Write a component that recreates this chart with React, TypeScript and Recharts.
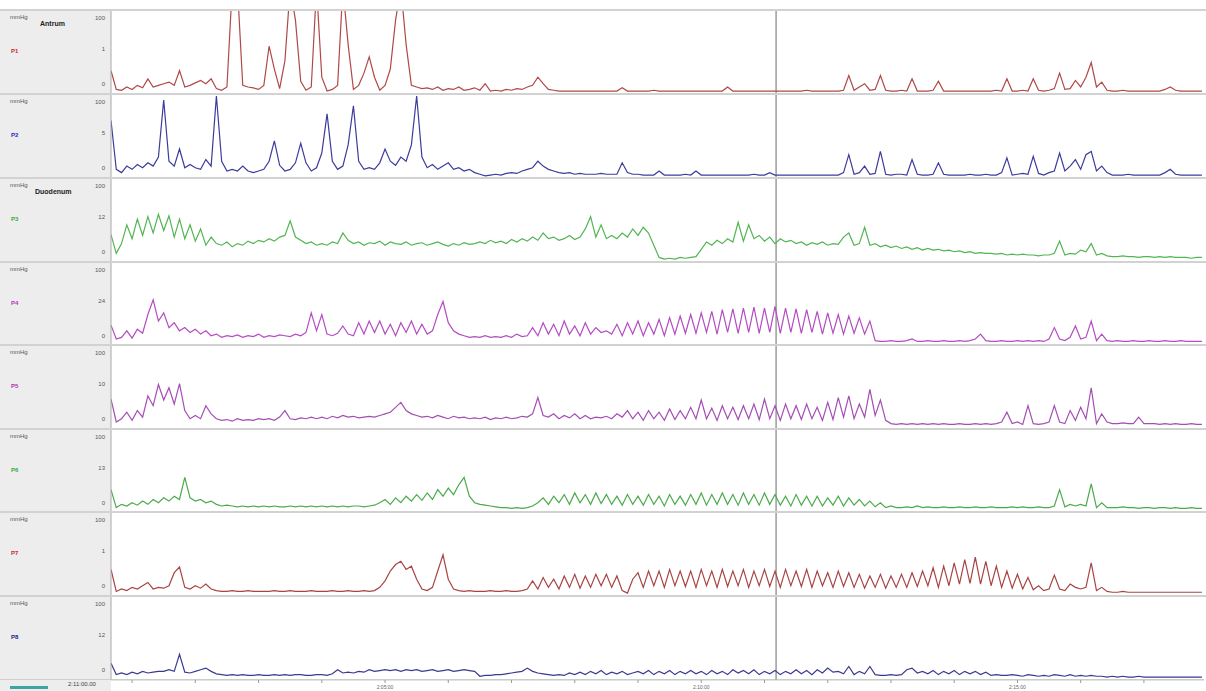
import React from "react";
import { LineChart, Line, XAxis, YAxis, ReferenceLine } from "recharts";

// sampling: seconds after 2:00:00, one sample every 5 s
const START_S = 40;
const STEP_S = 5;
const X_DOMAIN: [number, number] = [40, 1077];
const CURSOR_S = 671;
const TIME_TICKS = [60, 120, 180, 240, 300, 360, 420, 480, 540, 600, 660, 720, 780, 840, 900, 960, 1020];
const TIME_LABELS: Record<number, string> = { 300: "2:05:00", 600: "2:10:00", 900: "2:15:00" };
const CURSOR_LABEL = "2:11:00.00";

const channels = ["P1", "P2", "P3", "P4", "P5", "P6", "P7", "P8"];
const midLabels = ["1", "5", "12", "24", "10", "13", "1", "12"];
const regionLabels: Record<string, string> = { P1: "Antrum", P3: "Duodenum" };

const p1 = [
  28, 5, 4, 8, 5, 10, 7, 18, 8, 10,
  12, 14, 10, 28, 8, 10, 13, 16, 12, 18,
  6, 4, 8, 130, 130, 10, 8, 7, 5, 10,
  58, 30, 6, 40, 130, 90, 15, 4, 8, 130,
  20, 3, 5, 10, 130, 60, 5, 10, 25, 45,
  20, 4, 10, 30, 90, 130, 60, 10, 8, 6,
  7, 5, 8, 4, 6, 5, 8, 4, 5, 7,
  4, 12, 3, 4, 3, 5, 4, 6, 5, 8,
  10, 20, 12, 5, 4, 3, 3, 3, 3, 3,
  3, 3, 3, 3, 3, 3, 3, 7, 3, 3,
  3, 3, 3, 4, 3, 3, 3, 3, 3, 3,
  3, 3, 3, 3, 3, 3, 3, 8, 3, 3,
  3, 3, 3, 3, 3, 3, 3, 3, 3, 3,
  3, 3, 4, 3, 3, 3, 3, 3, 3, 4,
  22, 4, 8, 12, 4, 5, 22, 4, 3, 3,
  4, 3, 18, 3, 3, 3, 4, 15, 3, 3,
  3, 3, 3, 3, 3, 3, 3, 3, 4, 3,
  18, 3, 3, 4, 3, 18, 4, 3, 4, 6,
  25, 5, 6, 16, 8, 20, 38, 8, 14, 4,
  3, 3, 4, 3, 3, 3, 3, 3, 3, 3,
  5, 8, 4, 3, 3, 3, 3, 3,
];

const p2 = [
  70, 10, 6, 14, 10, 16, 12, 18, 14, 25,
  95, 20, 14, 35, 12, 16, 12, 10, 22, 14,
  100, 20, 8, 10, 8, 14, 8, 6, 8, 10,
  20, 45, 15, 8, 10, 18, 42, 18, 8, 12,
  30, 78, 20, 10, 14, 40, 88, 20, 10, 12,
  10, 18, 35, 20, 15, 25, 20, 40, 100, 25,
  12, 16, 10, 14, 18, 10, 12, 8, 10, 6,
  4, 2, 3, 4, 3, 5, 6, 5, 8, 10,
  12, 20, 14, 10, 8, 6, 5, 6, 4, 5,
  4, 4, 4, 5, 4, 4, 4, 18, 6, 4,
  4, 3, 3, 3, 8, 3, 3, 3, 3, 4,
  3, 8, 3, 3, 3, 3, 3, 3, 3, 3,
  3, 3, 4, 3, 3, 6, 3, 3, 3, 3,
  3, 3, 3, 3, 3, 3, 3, 3, 3, 6,
  28, 4, 6, 14, 4, 5, 32, 4, 3, 4,
  4, 3, 22, 4, 3, 3, 4, 18, 4, 3,
  3, 3, 3, 4, 3, 3, 4, 3, 3, 6,
  24, 3, 4, 5, 4, 26, 5, 3, 6, 8,
  30, 8, 14, 22, 10, 28, 32, 8, 14, 6,
  3, 3, 3, 4, 3, 3, 3, 3, 3, 3,
  6, 10, 4, 3, 3, 3, 3, 3,
];

const p3 = [
  33, 10, 22, 45, 28, 52, 32, 55, 35, 58,
  38, 56, 30, 52, 28, 45, 25, 40, 20, 30,
  22, 20, 24, 18, 22, 20, 25, 22, 26, 24,
  28, 25, 30, 32, 50, 30, 26, 22, 24, 20,
  22, 20, 24, 22, 35, 26, 22, 24, 20, 23,
  22, 25, 20, 24, 22, 21, 24, 20, 22, 23,
  20, 22, 24, 21, 19, 22, 20, 23, 21, 22,
  24, 22, 26, 23, 25, 22, 27, 24, 28, 25,
  30, 26, 35, 28, 30, 26, 28, 32, 27, 30,
  40, 55, 30, 45, 28, 32, 28, 35, 30, 40,
  32, 42, 35, 20, 5, 3, 4, 3, 5, 4,
  5, 6, 15, 24, 20, 26, 22, 28, 24, 48,
  25, 45, 28, 32, 25, 30, 22, 28, 24, 26,
  22, 24, 20, 23, 21, 24, 20, 22, 21, 30,
  35, 20, 22, 42, 20, 22, 18, 20, 17, 19,
  16, 18, 15, 17, 14, 16, 14, 15, 13, 14,
  12, 13, 11, 12, 10, 11, 10, 10, 9, 10,
  8, 9, 8, 9, 8, 8, 7, 8, 8, 10,
  25, 8, 10, 9, 14, 12, 22, 8, 10, 7,
  6, 6, 7, 6, 6, 5, 6, 6, 5, 6,
  5, 6, 5, 5, 5, 4, 5, 5,
];

const p4 = [
  25, 8, 10, 18, 9, 20, 15, 38, 56, 30,
  40, 22, 28, 18, 22, 16, 20, 14, 18, 12,
  14, 10, 12, 11, 13, 10, 12, 11, 14, 10,
  12, 11, 13, 12, 11, 14, 12, 16, 40, 18,
  38, 14, 12, 15, 24, 14, 12, 28, 14, 30,
  16, 30, 14, 26, 12, 28, 16, 30, 14, 26,
  14, 18, 38, 54, 28, 18, 14, 12, 10, 11,
  10, 12, 10, 11, 10, 12, 10, 14, 11, 12,
  22, 12, 28, 14, 26, 12, 30, 14, 24, 12,
  28, 14, 22, 16, 18, 14, 26, 12, 28, 14,
  30, 12, 28, 14, 32, 12, 34, 14, 36, 15,
  38, 15, 40, 16, 42, 14, 44, 16, 45, 15,
  46, 16, 47, 15, 46, 16, 48, 15, 46, 16,
  45, 15, 44, 16, 42, 14, 40, 15, 38, 14,
  36, 15, 34, 14, 30, 6, 5, 5, 6, 5,
  5, 6, 8, 5, 5, 6, 5, 5, 6, 5,
  5, 6, 5, 6, 8, 14, 6, 5, 5, 6,
  5, 5, 6, 5, 6, 5, 6, 5, 8, 22,
  8, 6, 10, 24, 8, 10, 30, 6, 14, 6,
  5, 6, 5, 5, 6, 5, 5, 6, 5, 5,
  6, 5, 5, 6, 5, 5, 5, 5,
];

const p5 = [
  36, 8, 12, 20, 10, 22, 14, 40, 28, 54,
  35, 50, 30, 55, 22, 12, 16, 12, 28, 18,
  12, 10, 11, 9, 12, 10, 11, 10, 12, 11,
  12, 10, 14, 22, 12, 11, 13, 12, 14, 12,
  14, 12, 15, 13, 16, 14, 15, 13, 14, 15,
  14, 16, 18, 20, 26, 32, 22, 18, 16, 14,
  15, 13, 16, 14, 12, 15, 13, 14, 12, 13,
  12, 14, 11, 13, 12, 14, 12, 13, 15, 14,
  18, 38, 16, 14, 18, 12, 16, 13, 18, 12,
  16, 12, 14, 13, 15, 12, 18, 14, 22, 12,
  20, 10, 22, 12, 20, 10, 24, 11, 22, 12,
  26, 12, 35, 12, 25, 10, 28, 12, 26, 11,
  28, 12, 30, 11, 36, 12, 28, 10, 30, 12,
  28, 11, 30, 12, 26, 10, 32, 11, 38, 14,
  40, 12, 30, 14, 48, 16, 35, 10, 6, 5,
  6, 5, 6, 5, 6, 5, 6, 5, 6, 5,
  5, 6, 5, 5, 6, 5, 6, 5, 6, 8,
  20, 6, 8, 5, 28, 6, 5, 6, 8, 28,
  8, 6, 22, 10, 26, 12, 50, 6, 18, 8,
  6, 6, 7, 6, 6, 14, 6, 6, 6, 5,
  6, 5, 6, 5, 5, 6, 5, 5,
];

const p6 = [
  28, 6, 10, 8, 12, 9, 14, 10, 16, 12,
  18, 14, 20, 16, 43, 18, 14, 16, 12, 14,
  10, 8, 9, 8, 7, 8, 7, 8, 7, 8,
  7, 8, 7, 7, 8, 7, 8, 7, 8, 7,
  8, 7, 8, 7, 8, 7, 8, 8, 7, 8,
  9, 12, 16, 10, 18, 12, 20, 14, 22, 15,
  24, 16, 28, 20, 30, 22, 34, 43, 20, 12,
  10, 9, 8, 7, 6, 6, 5, 6, 5, 6,
  8, 12, 18, 10, 20, 12, 22, 10, 24, 12,
  22, 10, 24, 11, 22, 10, 20, 9, 22, 10,
  20, 9, 22, 10, 20, 8, 22, 10, 20, 9,
  22, 10, 24, 9, 22, 10, 24, 10, 22, 9,
  24, 10, 22, 9, 24, 10, 22, 9, 20, 8,
  22, 9, 20, 8, 20, 8, 18, 9, 20, 8,
  18, 9, 16, 8, 14, 7, 12, 6, 8, 6,
  6, 7, 6, 8, 6, 7, 6, 6, 7, 6,
  6, 7, 6, 6, 7, 6, 6, 7, 6, 6,
  6, 7, 6, 7, 6, 6, 7, 6, 6, 8,
  28, 7, 10, 8, 10, 8, 35, 6, 12, 6,
  6, 6, 7, 6, 6, 5, 6, 6, 5, 6,
  6, 5, 6, 5, 5, 6, 5, 5,
];

const p7 = [
  32, 5, 8, 6, 10, 8, 12, 16, 8, 10,
  9, 12, 28, 35, 10, 8, 12, 9, 14, 8,
  6, 5, 5, 6, 5, 5, 6, 5, 5, 5,
  5, 6, 5, 5, 6, 5, 5, 5, 6, 5,
  5, 5, 6, 5, 5, 6, 5, 5, 6, 5,
  6, 10, 18, 30, 38, 42, 32, 36, 20, 8,
  6, 10, 30, 50, 20, 8, 6, 5, 6, 5,
  5, 5, 6, 5, 5, 6, 5, 5, 6, 8,
  18, 8, 22, 10, 20, 8, 24, 10, 26, 9,
  24, 10, 26, 12, 26, 10, 24, 6, 3, 20,
  28, 10, 30, 12, 30, 10, 32, 12, 30, 11,
  30, 10, 32, 12, 30, 10, 32, 11, 30, 12,
  32, 10, 30, 12, 32, 11, 30, 10, 32, 12,
  30, 11, 32, 10, 30, 12, 28, 10, 30, 11,
  28, 10, 26, 9, 24, 10, 26, 9, 24, 10,
  26, 10, 28, 11, 30, 12, 34, 10, 36, 12,
  40, 14, 44, 15, 47, 14, 42, 12, 36, 10,
  30, 9, 26, 8, 22, 7, 12, 6, 8, 25,
  8, 6, 14, 10, 8, 10, 40, 6, 10, 5,
  4, 4, 5, 4, 4, 4, 4, 4, 4, 4,
  4, 4, 4, 4, 4, 4, 4, 4,
];

const p8 = [
  20, 6, 8, 6, 9, 7, 10, 8, 9, 10,
  10, 12, 10, 31, 9, 8, 10, 12, 14, 10,
  7, 6, 5, 6, 5, 6, 5, 5, 6, 5,
  5, 6, 5, 6, 5, 6, 6, 5, 5, 6,
  6, 5, 7, 12, 8, 9, 8, 10, 9, 12,
  10, 11, 12, 11, 12, 10, 12, 11, 12, 10,
  11, 12, 10, 11, 12, 10, 11, 12, 11, 10,
  4, 5, 5, 6, 6, 7, 8, 9, 10, 14,
  10, 8, 7, 6, 5, 6, 5, 8, 6, 9,
  6, 10, 7, 11, 6, 9, 7, 10, 6, 8,
  10, 7, 11, 6, 10, 7, 11, 6, 10, 7,
  11, 7, 10, 6, 11, 7, 10, 6, 12, 8,
  11, 7, 12, 6, 10, 7, 11, 6, 10, 7,
  12, 7, 11, 6, 12, 8, 14, 9, 10, 7,
  16, 6, 10, 7, 16, 6, 5, 5, 6, 5,
  6, 12, 14, 8, 10, 7, 11, 6, 10, 7,
  11, 6, 10, 7, 10, 6, 9, 5, 6, 5,
  5, 6, 5, 4, 6, 5, 4, 5, 4, 6,
  5, 4, 6, 4, 5, 4, 5, 4, 4, 3,
  4, 3, 4, 3, 3, 4, 3, 3, 3, 3,
  3, 3, 3, 3, 3, 3, 3, 3,
];

const series = [p1, p2, p3, p4, p5, p6, p7, p8];

const table = p1.map((_, i) => {
  const row: Record<string, number> = { t: START_S + STEP_S * i };
  channels.forEach((ch, k) => {
    row[ch] = series[k][i];
  });
  return row;
});

const traceColors = ["#b04848", "#3c3c9c", "#52b552", "#b44cc2", "#a44eb4", "#4caa4c", "#a84444", "#3a3a8e"];
const labelColors = ["#d02828", "#2828c0", "#40a840", "#c030c0", "#b030b0", "#40a840", "#d02828", "#202090"];

const STRIP_TOPS = [10, 94, 178, 262, 345, 429, 512, 596];
const STRIP_H = 84;
const AXIS_H = 11;
const Y_DOMAIN: [number, number] = [-0.6, 102.45];

const FONT = "'Liberation Sans', Arial, sans-serif";

function makeTick(mid: string) {
  return (props: any) => {
    const { x, y, payload } = props;
    const v = payload.value;
    const label = v === 0 ? "0" : v === 100 ? "100" : mid;
    const dy = v === 0 ? -9 : v === 100 ? 6 : -3;
    return (
      <text x={x + 2} y={y + dy} textAnchor="end" dominantBaseline="middle" fontSize={6} fill="#555" fontFamily={FONT}>
        {label}
      </text>
    );
  };
}

export default function App() {
  return (
    <div
      style={{
        position: "absolute",
        left: 0,
        top: 0,
        width: 1206,
        height: 691,
        background: "#ffffff",
        overflow: "hidden",
        fontFamily: FONT,
      }}
    >
      <div style={{ position: "absolute", left: 0, top: 10, width: 111, height: 681, background: "#ededed" }} />
      {channels.map((ch, k) => {
        const top = STRIP_TOPS[k];
        const last = k === channels.length - 1;
        return (
          <React.Fragment key={ch}>
            <div style={{ position: "absolute", left: 10, top: top + 4, fontSize: 6, color: "#555" }}>mmHg</div>
            <div
              style={{
                position: "absolute",
                left: 11,
                top: top + 38,
                fontSize: 6,
                fontWeight: 700,
                color: labelColors[k],
              }}
            >
              {ch}
            </div>
            {regionLabels[ch] && (
              <div
                style={{
                  position: "absolute",
                  left: ch === "P1" ? 40 : 35,
                  top: top + 10,
                  fontSize: 7,
                  fontWeight: 700,
                  color: "#222",
                }}
              >
                {regionLabels[ch]}
              </div>
            )}
            <div style={{ position: "absolute", left: 0, top: top }}>
              <LineChart
                width={1206}
                height={last ? STRIP_H + AXIS_H : STRIP_H}
                data={table}
                margin={{ top: 0, right: 2, bottom: 0, left: 0 }}
              >
                <XAxis
                  type="number"
                  dataKey="t"
                  domain={X_DOMAIN}
                  allowDataOverflow
                  hide={!last}
                  height={AXIS_H}
                  ticks={TIME_TICKS}
                  interval={0}
                  tickFormatter={(t: number) => TIME_LABELS[t] || ""}
                  tickSize={3}
                  tick={{ fontSize: 5, fill: "#666", fontFamily: FONT }}
                  tickLine={{ stroke: "#999" }}
                  axisLine={{ stroke: "#c8c8c8" }}
                />
                <YAxis
                  width={111}
                  domain={Y_DOMAIN}
                  allowDataOverflow
                  ticks={[0, 50, 100]}
                  interval={0}
                  tickLine={false}
                  axisLine={{ stroke: "#a8a8a8" }}
                  tick={makeTick(midLabels[k])}
                />
                <ReferenceLine y={0} stroke="#c9cfc9" strokeWidth={1} />
                <ReferenceLine x={CURSOR_S} stroke="#6a6a6a" strokeWidth={1} />
                <Line
                  type="linear"
                  dataKey={ch}
                  stroke={traceColors[k]}
                  strokeWidth={1.2}
                  dot={false}
                  isAnimationActive={false}
                />
              </LineChart>
            </div>
            <div
              style={{
                position: "absolute",
                left: 0,
                top: top - 1,
                width: 1206,
                height: 0,
                borderTop: "2px solid #d2d2d2",
              }}
            />
          </React.Fragment>
        );
      })}
      <div style={{ position: "absolute", left: 0, top: 679, width: 111, height: 0, borderTop: "1px solid #cfcfcf" }} />
      <div style={{ position: "absolute", left: 68, top: 681, fontSize: 6, color: "#444" }}>{CURSOR_LABEL}</div>
      <div style={{ position: "absolute", left: 10, top: 686, width: 38, height: 3, background: "#3aa7a0" }} />
    </div>
  );
}
